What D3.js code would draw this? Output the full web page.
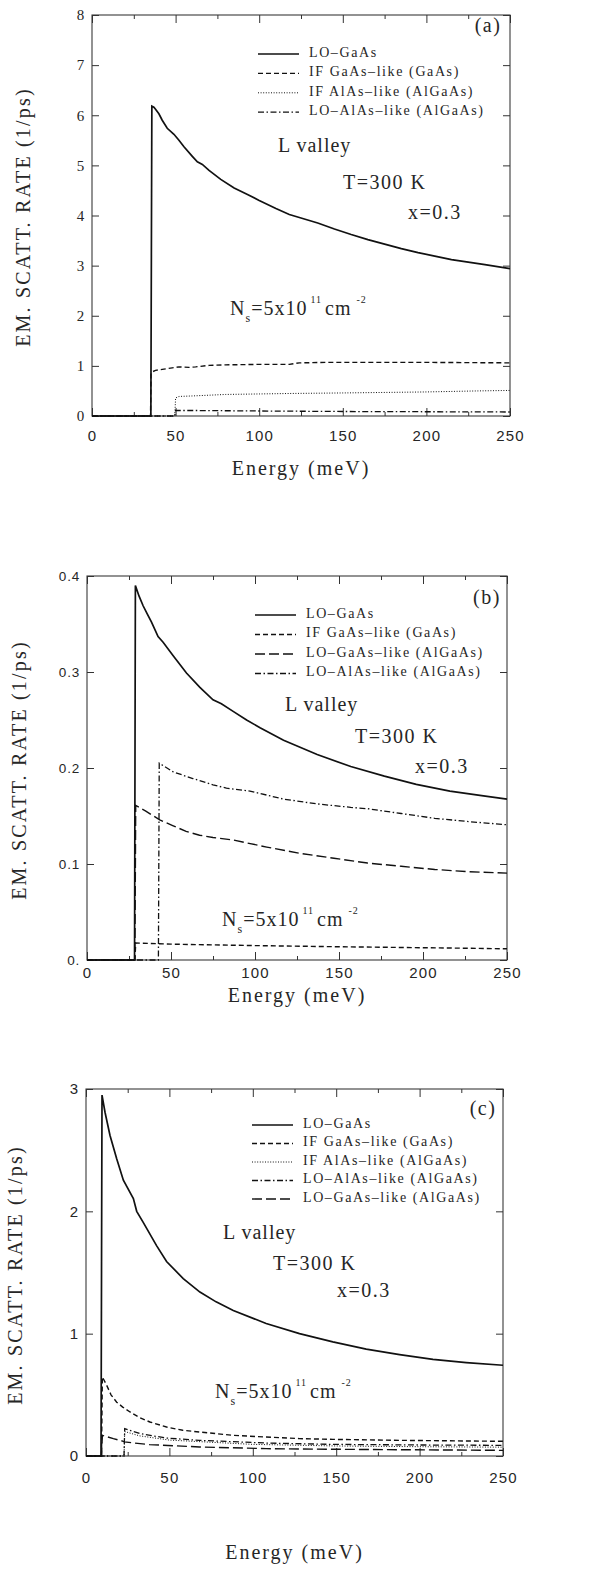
<!DOCTYPE html>
<html>
<head>
<meta charset="utf-8">
<script src="https://cdn.jsdelivr.net/npm/d3@7"></script>
<style>
  body { margin: 0; background: #fff; }
</style>
</head>
<body>
<svg id="fig" width="596" height="1572"></svg>
<script>
// ---- data: [energy (meV), rate (1/ps)] ----
var xTicks = [0, 50, 100, 150, 200, 250];
var xMinor = [25, 75, 125, 175, 225];

// panel (a)
var aTicks = [0, 1, 2, 3, 4, 5, 6, 7, 8];
var aTickLabels = ["0", "1", "2", "3", "4", "5", "6", "7", "8"];
var aLoGaAs = [[0,0],[35.2,0],[35.8,6.18],[37,6.16],[38,6.12],[40,6.03],[42,5.9],[45,5.74],[49,5.62],[52,5.5],[55,5.37],[60,5.18],[63,5.07],[66,5.02],[70,4.9],[77,4.72],[85,4.55],[93,4.42],[100,4.3],[110,4.14],[118,4.02],[124,3.96],[135,3.85],[145,3.73],[155,3.62],[165,3.52],[175,3.43],[185,3.34],[195,3.26],[205,3.19],[215,3.12],[225,3.07],[235,3.02],[250,2.94]];
var aIfGaAs = [[0,0],[35,0],[35.3,0.85],[36,0.88],[38,0.91],[42,0.93],[48,0.96],[52,0.98],[58,0.97],[62,0.98],[70,1.01],[80,1.02],[100,1.03],[118,1.03],[124,1.06],[140,1.07],[160,1.07],[200,1.07],[250,1.06]];
var aIfAlAs = [[0,0],[49.5,0],[50,0.36],[52,0.39],[60,0.4],[80,0.43],[100,0.44],[120,0.45],[150,0.46],[200,0.48],[230,0.5],[250,0.51]];
var aLoAlAs = [[0,0],[49.5,0],[50,0.11],[60,0.11],[100,0.1],[150,0.09],[200,0.085],[250,0.08]];
var aLegend = ["LO\u2013GaAs", "IF GaAs\u2013like (GaAs)", "IF AlAs\u2013like (AlGaAs)", "LO\u2013AlAs\u2013like (AlGaAs)"];

// panel (b)
var bTicks = [0, 0.1, 0.2, 0.3, 0.4];
var bTickLabels = ["0.", "0.1", "0.2", "0.3", "0.4"];
var bLoGaAs = [[0,0],[28.3,0],[28.8,0.39],[31,0.379],[33.4,0.369],[36,0.36],[38.4,0.352],[42.3,0.337],[45.3,0.331],[51.3,0.317],[59.2,0.299],[67.2,0.284],[75,0.271],[80,0.267],[87,0.259],[95,0.25],[103,0.242],[117,0.229],[137,0.214],[157,0.2015],[177,0.1915],[196,0.183],[216,0.176],[236,0.171],[250,0.1675]];
var bIfGaAs = [[0,0],[28.5,0],[29,0.0177],[50,0.0165],[100,0.015],[150,0.0138],[200,0.0128],[250,0.0117]];
var bLoGaAsLike = [[0,0],[28.5,0],[29,0.161],[35,0.155],[43.3,0.146],[51,0.14],[59,0.134],[67,0.13],[75,0.1276],[87,0.125],[107,0.1176],[127,0.111],[147,0.106],[167,0.101],[187,0.0976],[207,0.0943],[227,0.092],[250,0.0905]];
var bLoAlAs = [[0,0],[42.5,0],[43,0.205],[51.3,0.196],[63,0.189],[75,0.1825],[83,0.179],[97,0.176],[117,0.1676],[137,0.1626],[157,0.159],[167,0.1576],[187,0.1526],[207,0.1476],[227,0.1442],[250,0.1409]];
var bLegend = ["LO\u2013GaAs", "IF GaAs\u2013like (GaAs)", "LO\u2013GaAs\u2013like (AlGaAs)", "LO\u2013AlAs\u2013like (AlGaAs)"];

// panel (c)
var cTicks = [0, 1, 2, 3];
var cTickLabels = ["0", "1", "2", "3"];
var cLoGaAs = [[0,0],[9,0],[9.6,2.95],[11.4,2.81],[14.4,2.62],[18.4,2.43],[22.4,2.255],[28.4,2.105],[30.4,2.0],[34.3,1.91],[42.3,1.72],[48.3,1.59],[58.3,1.45],[68.3,1.34],[78,1.26],[88.3,1.19],[108,1.083],[128,1.0],[148,0.933],[168,0.873],[188,0.829],[208,0.79],[228,0.764],[250,0.742]];
var cIfGaAs = [[0,0],[9.3,0],[9.8,0.646],[12.4,0.578],[15,0.5],[18.4,0.44],[22,0.4],[26.4,0.36],[32,0.315],[38.3,0.278],[48.3,0.237],[58,0.21],[68.3,0.196],[88,0.169],[108,0.155],[128,0.142],[148,0.136],[188,0.128],[250,0.12]];
var cIfAlAs = [[0,0],[22.8,0],[23.2,0.2],[32,0.165],[50,0.13],[100,0.095],[150,0.082],[200,0.076],[250,0.072]];
var cLoAlAs = [[0,0],[22.8,0],[23.2,0.224],[32.3,0.183],[48,0.147],[68,0.128],[108,0.106],[148,0.095],[200,0.09],[250,0.087]];
var cLoGaAsLike = [[0,0],[9.3,0],[9.8,0.169],[16.4,0.142],[22.4,0.12],[23,0.115],[38,0.093],[68,0.074],[108,0.06],[148,0.055],[250,0.046]];
var cLegend = ["LO\u2013GaAs", "IF GaAs\u2013like (GaAs)", "IF AlAs\u2013like (AlGaAs)", "LO\u2013AlAs\u2013like (AlGaAs)", "LO\u2013GaAs\u2013like (AlGaAs)"];

// line styles
var dash = {
  solid:    { d: null,            w: 1.7 },
  dash:     { d: "5,3",           w: 1.4 },
  dot:      { d: "1,1.6",         w: 1.0 },
  dashdot:  { d: "6,2.5,1.5,2.5", w: 1.3 },
  longdash: { d: "10,4",          w: 1.4 }
};

var SERIF = "'Liberation Serif', 'DejaVu Serif', serif";
var SANS = "'Liberation Sans', 'DejaVu Sans', sans-serif";
var INK = "#262626";

var svg = d3.select("#fig");

var panels = [
  { id: "(a)", left: 92, right: 510, top: 15, bottom: 416, ydom: [0, 8],
    ticks: aTicks, tickLabels: aTickLabels,
    series: [aLoGaAs, aIfGaAs, aIfAlAs, aLoAlAs],
    styles: ["solid", "dash", "dot", "dashdot"], legend: aLegend,
    tagX: 488, tagY: 32, legX: 258, legY: 52, legStep: 19.4,
    lv: [278, 152], tt: [343, 189], xx: [408, 219], ns: [230, 315],
    xPad: 14, xlabY: 475, ylabX: 30, ylabY: 217, ytickFont: SERIF, ytickSize: 15 },
  { id: "(b)", left: 87, right: 507, top: 576, bottom: 960, ydom: [0, 0.4],
    ticks: bTicks, tickLabels: bTickLabels,
    series: [bLoGaAs, bIfGaAs, bLoGaAsLike, bLoAlAs],
    styles: ["solid", "dash", "longdash", "dashdot"], legend: bLegend,
    tagX: 487, tagY: 604, legX: 255, legY: 613, legStep: 19.5,
    lv: [285, 711], tt: [355, 743], xx: [415, 773], ns: [222, 926],
    xPad: 7, xlabY: 1002, ylabX: 26, ylabY: 770, ytickFont: SANS, ytickSize: 13.5 },
  { id: "(c)", left: 86, right: 503, top: 1089, bottom: 1456, ydom: [0, 3],
    ticks: cTicks, tickLabels: cTickLabels,
    series: [cLoGaAs, cIfGaAs, cIfAlAs, cLoAlAs, cLoGaAsLike],
    styles: ["solid", "dash", "dot", "dashdot", "longdash"], legend: cLegend,
    tagX: 483, tagY: 1115, legX: 252, legY: 1123, legStep: 18.5,
    lv: [223, 1239], tt: [273, 1270], xx: [337, 1297], ns: [215, 1398],
    xPad: 16, xlabY: 1559, ylabX: 22, ylabY: 1275, ytickFont: SANS, ytickSize: 15 }
];

panels.forEach(function (p) {
  var x = d3.scaleLinear().domain([0, 250]).range([p.left, p.right]);
  var y = d3.scaleLinear().domain(p.ydom).range([p.bottom, p.top]);
  var g = svg.append("g");

  // frame
  g.append("rect")
    .attr("x", p.left).attr("y", p.top)
    .attr("width", p.right - p.left).attr("height", p.bottom - p.top)
    .attr("fill", "none").attr("stroke", "#3a3a3a").attr("stroke-width", 1.1);

  // bottom axis with labels, inward ticks on all four sides
  var xb = g.append("g")
    .attr("transform", "translate(0," + p.bottom + ")")
    .call(d3.axisBottom(x).tickValues(xTicks).tickSize(-8).tickPadding(p.xPad).tickFormat(d3.format("d")));
  g.append("g")
    .attr("transform", "translate(0," + p.bottom + ")")
    .call(d3.axisBottom(x).tickValues(xMinor).tickSize(-4).tickFormat(""));
  g.append("g")
    .attr("transform", "translate(0," + p.top + ")")
    .call(d3.axisTop(x).tickValues(xTicks).tickSize(-8).tickFormat(""));
  g.append("g")
    .attr("transform", "translate(0," + p.top + ")")
    .call(d3.axisTop(x).tickValues(xMinor).tickSize(-4).tickFormat(""));

  var yl = g.append("g")
    .attr("transform", "translate(" + p.left + ",0)")
    .call(d3.axisLeft(y).tickValues(p.ticks).tickSize(-7).tickPadding(7)
      .tickFormat(function (d, i) { return p.tickLabels[i]; }));
  g.append("g")
    .attr("transform", "translate(" + p.right + ",0)")
    .call(d3.axisRight(y).tickValues(p.ticks).tickSize(-7).tickFormat(""));

  g.selectAll(".domain").remove();
  g.selectAll(".tick line").attr("stroke", "#333").attr("stroke-width", 1);
  xb.selectAll("text").style("font-family", SANS).style("font-size", "15px")
    .style("letter-spacing", "1.2px").style("fill", INK);
  yl.selectAll("text").style("font-family", p.ytickFont).style("font-size", p.ytickSize + "px")
    .style("letter-spacing", "0.8px").style("fill", INK);

  // curves
  var line = d3.line().x(function (d) { return x(d[0]); }).y(function (d) { return y(d[1]); });
  p.series.forEach(function (s, i) {
    var st = dash[p.styles[i]];
    g.append("path").datum(s)
      .attr("d", line)
      .attr("fill", "none")
      .attr("stroke", "#111")
      .attr("stroke-width", st.w)
      .attr("stroke-dasharray", st.d);
  });

  function txt(xp, yp, size, ls) {
    return g.append("text").attr("x", xp).attr("y", yp)
      .style("font-family", SERIF).style("font-size", size + "px")
      .style("font-weight", "normal").style("letter-spacing", ls + "px").style("fill", INK);
  }

  // legend
  p.legend.forEach(function (name, i) {
    var st = dash[p.styles[i]];
    var ly = p.legY + i * p.legStep;
    g.append("line")
      .attr("x1", p.legX).attr("x2", p.legX + 41)
      .attr("y1", ly + 2).attr("y2", ly + 2)
      .attr("stroke", "#111").attr("stroke-width", st.w)
      .attr("stroke-dasharray", st.d);
    txt(p.legX + 51, ly, 14, 1.6).attr("dy", "0.35em").text(name);
  });

  // panel tag and annotations
  txt(p.tagX, p.tagY, 20, 1.5).attr("text-anchor", "middle").text(p.id);
  txt(p.lv[0], p.lv[1], 20, 1).text("L valley");
  txt(p.tt[0], p.tt[1], 20, 1.5).text("T=300 K");
  txt(p.xx[0], p.xx[1], 20, 1.5).text("x=0.3");

  var ns = txt(p.ns[0], p.ns[1], 20, 1);
  ns.append("tspan").text("N");
  ns.append("tspan").attr("dy", 7).style("font-size", "12px").text("s");
  ns.append("tspan").attr("dy", -7).text("=5x10");
  ns.append("tspan").attr("dy", -12).attr("dx", 3).style("font-size", "10px").text("11");
  ns.append("tspan").attr("dy", 12).attr("dx", 3).text("cm");
  ns.append("tspan").attr("dy", -12).attr("dx", 5).style("font-size", "10px").text("-2");

  // axis titles
  txt((p.left + p.right) / 2, p.xlabY, 20, 2)
    .attr("text-anchor", "middle").text("Energy (meV)");
  g.append("text")
    .attr("transform", "translate(" + p.ylabX + "," + p.ylabY + ") rotate(-90)")
    .attr("text-anchor", "middle")
    .style("font-family", SERIF).style("font-size", "20px")
    .style("letter-spacing", "2.2px").style("fill", INK)
    .text("EM. SCATT. RATE (1/ps)");
});
</script>
</body>
</html>
